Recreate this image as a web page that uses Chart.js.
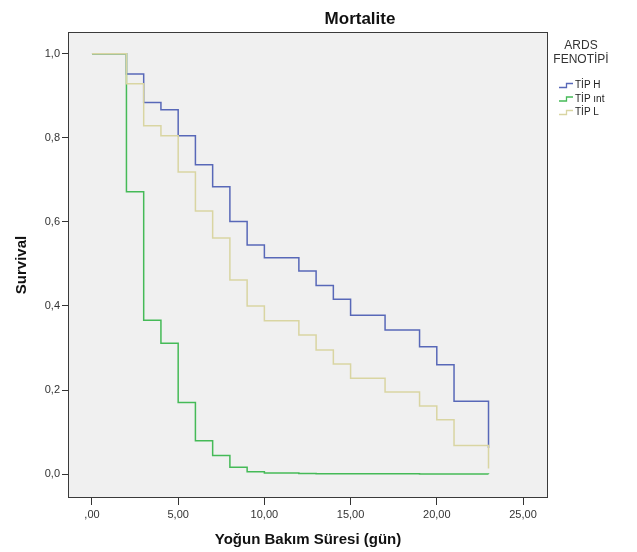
<!DOCTYPE html>
<html>
<head>
<meta charset="utf-8">
<script src="https://cdn.jsdelivr.net/npm/chart.js@4.4.0/dist/chart.umd.min.js"></script>
<style>
  html, body { margin: 0; padding: 0; background: #fff; }
  #wrap { width: 637px; height: 552px; }
</style>
</head>
<body>
<div id="wrap"><canvas id="km" width="637" height="552"></canvas></div>
<script>
"use strict";

var chartTitle = 'Mortalite';
var legendTitle = ['ARDS', 'FENOTİPİ'];
var groupNames = ['TİP H', 'TİP ınt', 'TİP L'];
var groupColors = ['#5868b8', '#45ba57', '#d9d5a2'];

// Kaplan-Meier steps (day, survival after the event)
var tipHDays = [0, 2, 3, 4, 5, 6, 7, 8, 9, 10, 12, 13, 14, 15, 17, 19, 20, 21, 23];
var tipHSurv = [1, 0.952, 0.884, 0.867, 0.805, 0.736, 0.684, 0.601, 0.545, 0.515, 0.483, 0.449, 0.416, 0.378, 0.343, 0.303, 0.260, 0.173, 0.062];

var tipIntDays = [0, 2, 3, 4, 5, 6, 7, 8, 9, 10, 12, 13, 15, 19, 23];
var tipIntSurv = [1, 0.672, 0.366, 0.311, 0.170, 0.079, 0.044, 0.016, 0.0055, 0.0025, 0.0015, 0.001, 0.0005, 0.0002, 0.0001];

var tipLDays = [0, 2, 3, 4, 5, 6, 7, 8, 9, 10, 12, 13, 14, 15, 17, 19, 20, 21, 23];
var tipLSurv = [1, 0.929, 0.829, 0.805, 0.719, 0.626, 0.562, 0.462, 0.400, 0.365, 0.331, 0.295, 0.262, 0.228, 0.195, 0.162, 0.129, 0.068, 0.0135];

var xTicks = [0, 5, 10, 15, 20, 25];
var yTicks = [0, 0.2, 0.4, 0.6, 0.8, 1.0];

var FONT = '"Liberation Sans", Arial, sans-serif';

function toPoints(days, surv) {
    return days.map(function(d, i) { return { x: d, y: surv[i] }; });
}

function makeSet(i, days, surv, order) {
    return {
        label: groupNames[i],
        data: toPoints(days, surv),
        borderColor: groupColors[i],
        borderWidth: 1.5,
        stepped: true,
        pointRadius: 0,
        fill: false,
        order: order
    };
}

// plot frame, title and step-icon legend
var kmDecor = {
    id: 'kmDecor',
    beforeDraw: function(chart) {
        var a = chart.chartArea, ctx = chart.ctx;
        ctx.save();
        ctx.fillStyle = '#f0f0f0';
        ctx.fillRect(a.left, a.top, a.right - a.left, a.bottom - a.top);
        ctx.restore();
    },
    afterDraw: function(chart) {
        var a = chart.chartArea, ctx = chart.ctx;
        ctx.save();
        ctx.strokeStyle = '#3a3a3a';
        ctx.lineWidth = 1;
        ctx.strokeRect(a.left + 0.5, a.top + 0.5, a.right - a.left - 1, a.bottom - a.top - 1);

        ctx.fillStyle = '#111';
        ctx.font = 'bold 17px ' + FONT;
        ctx.textAlign = 'center';
        ctx.textBaseline = 'middle';
        ctx.fillText(chartTitle, 360, 19);

        ctx.fillStyle = '#333';
        ctx.font = '12px ' + FONT;
        legendTitle.forEach(function(line, i) {
            ctx.fillText(line, 581, 46 + i * 14);
        });

        ctx.font = '10px ' + FONT;
        ctx.textAlign = 'left';
        chart.data.datasets.forEach(function(ds, i) {
            var y = 85.5 + i * 13.5;
            ctx.strokeStyle = ds.borderColor;
            ctx.lineWidth = 1.3;
            ctx.beginPath();
            ctx.moveTo(559, y + 2);
            ctx.lineTo(566.5, y + 2);
            ctx.lineTo(566.5, y - 2);
            ctx.lineTo(573, y - 2);
            ctx.stroke();
            ctx.fillStyle = '#222';
            ctx.fillText(ds.label, 575, y);
        });
        ctx.restore();
    }
};

new Chart(document.getElementById('km'), {
    type: 'line',
    data: {
        datasets: [
            makeSet(0, tipHDays, tipHSurv, 3),
            makeSet(1, tipIntDays, tipIntSurv, 2),
            makeSet(2, tipLDays, tipLSurv, 1)
        ]
    },
    options: {
        responsive: false,
        animation: false,
        events: [],
        layout: { padding: { top: 32, right: 89, bottom: 0, left: 0 } },
        plugins: {
            legend: { display: false },
            tooltip: { enabled: false }
        },
        scales: {
            x: {
                type: 'linear',
                min: -1.39,
                max: 26.45,
                afterBuildTicks: function(scale) {
                    scale.ticks = xTicks.map(function(v) { return { value: v }; });
                },
                afterFit: function(scale) { scale.height = 54; },
                grid: { drawOnChartArea: false, tickLength: 7, tickColor: '#333' },
                border: { display: false },
                ticks: {
                    padding: 3,
                    color: '#333',
                    font: { size: 11, family: FONT },
                    maxRotation: 0,
                    callback: function(v) {
                        return v === 0 ? ',00' : v.toFixed(2).replace('.', ',');
                    }
                },
                title: {
                    display: true,
                    text: 'Yoğun Bakım Süresi (gün)',
                    color: '#111',
                    font: { size: 15, weight: 'bold', family: FONT },
                    padding: { top: 0, bottom: 3 }
                }
            },
            y: {
                min: -0.057,
                max: 1.052,
                afterBuildTicks: function(scale) {
                    scale.ticks = yTicks.map(function(v) { return { value: v }; });
                },
                afterFit: function(scale) { scale.width = 68; },
                grid: { drawOnChartArea: false, tickLength: 6, tickColor: '#333' },
                border: { display: false },
                ticks: {
                    padding: 2,
                    color: '#333',
                    font: { size: 11, family: FONT },
                    callback: function(v) { return v.toFixed(1).replace('.', ','); }
                },
                title: {
                    display: true,
                    text: 'Survival',
                    color: '#111',
                    font: { size: 15, weight: 'bold', family: FONT },
                    padding: { top: 13, bottom: 0 }
                }
            }
        }
    },
    plugins: [kmDecor]
});
</script>
</body>
</html>
